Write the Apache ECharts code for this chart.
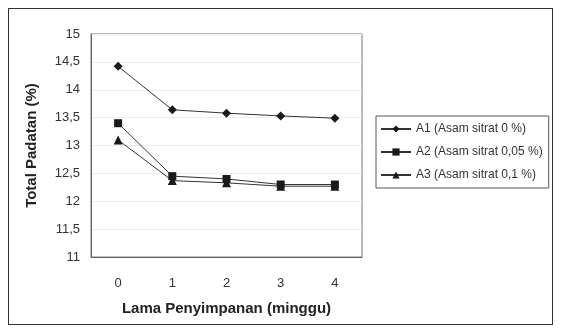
<!DOCTYPE html>
<html><head><meta charset="utf-8">
<script src="https://cdn.jsdelivr.net/npm/echarts@6/dist/echarts.min.js"></script>
<style>html,body{margin:0;padding:0;background:#fff}#c{width:563px;height:333px}
#frame{position:absolute;left:8px;top:8px;width:545px;height:317px;border:1px solid #333;box-sizing:border-box;pointer-events:none}</style>
</head><body><div id="c"></div><div id="frame"></div>
<script>
var categories = ['0', '1', '2', '3', '4'];
var seriesNames = ['A1 (Asam sitrat 0 %)', 'A2 (Asam sitrat 0,05 %)', 'A3 (Asam sitrat 0,1 %)'];
var a1 = [14.42, 13.64, 13.58, 13.53, 13.49];
var a2 = [13.40, 12.45, 12.40, 12.30, 12.30];
var a3 = [13.10, 12.37, 12.33, 12.27, 12.27];
var yTicks = ['11', '11,5', '12', '12,5', '13', '13,5', '14', '14,5', '15'];

var font = 'Liberation Sans, Arial, sans-serif';
var chart = echarts.init(document.getElementById('c'));
function s(name, data, sym, size) {
  return { name: name, type: 'line', data: data, symbol: sym, symbolSize: size,
    itemStyle: { color: '#1a1a1a' }, lineStyle: { color: '#333', width: 1 } };
}
chart.setOption({
  animation: false,
  grid: { left: 91, right: 201, top: 34, bottom: 76 },
  xAxis: {
    type: 'category', data: categories, boundaryGap: true,
    axisLine: { lineStyle: { color: '#666' } }, axisTick: { show: false },
    axisLabel: { color: '#333', fontFamily: font, fontSize: 13, margin: 20 },
    name: 'Lama Penyimpanan (minggu)', nameLocation: 'middle', nameGap: 44,
    nameTextStyle: { color: '#222', fontFamily: font, fontSize: 15, fontWeight: 'bold' },
    splitLine: { show: false }
  },
  yAxis: {
    type: 'value', min: 11, max: 15, interval: 0.5,
    axisLine: { show: true, lineStyle: { color: '#666' } }, axisTick: { show: false },
    axisLabel: { color: '#333', fontFamily: font, fontSize: 13, margin: 11,
      formatter: function (v) { return yTicks[Math.round((v - 11) / 0.5)]; } },
    splitLine: { show: true, lineStyle: { color: '#eeeeee', width: 1 } },
    name: 'Total Padatan (%)', nameLocation: 'middle', nameGap: 52, nameRotate: 90,
    nameTextStyle: { color: '#222', fontFamily: font, fontSize: 15, fontWeight: 'bold' }
  },
  legend: {
    orient: 'vertical', left: 376, top: 116, itemGap: 11, itemWidth: 30, itemHeight: 9,
    padding: [7, 6, 7, 4], borderColor: '#555', borderWidth: 1,
    textStyle: { color: '#333', fontFamily: font, fontSize: 12 },
    data: seriesNames
  },
  series: [ s(seriesNames[0], a1, 'diamond', 9), s(seriesNames[1], a2, 'rect', 8), s(seriesNames[2], a3, 'triangle', 9) ],
  graphic: [{ type: 'rect', shape: { x: 91, y: 34, width: 271, height: 223 }, style: { fill: 'none', stroke: '#777', lineWidth: 1 }, silent: true }]
});
</script></body></html>
